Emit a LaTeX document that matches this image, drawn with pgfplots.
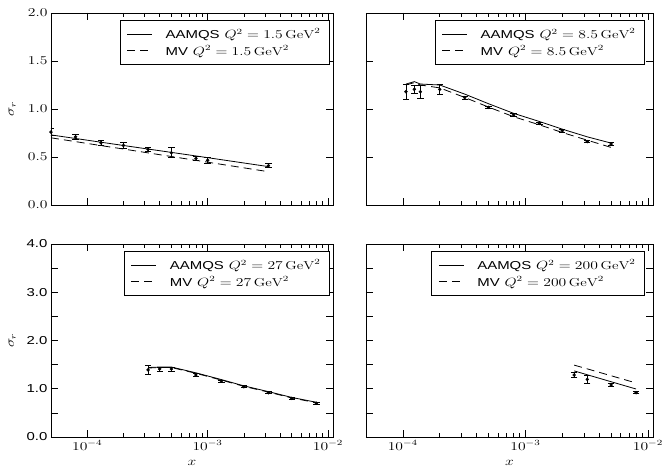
\documentclass[border=0pt]{standalone}
\usepackage{fontspec}
\setsansfont{Liberation Sans}
\usepackage{graphicx}
\usepackage{pgfplots}
\pgfplotsset{compat=1.18}
\newcommand{\fs}{\fontsize{11.5}{13.8}\selectfont}
\newcommand{\sx}[1]{\scalebox{1.3}[1]{#1}}
\pgfplotsset{
  every axis/.append style={
    scale only axis,
    xtick pos=both, ytick pos=both, tick align=inside,
    major tick length=7pt, minor tick length=4pt,
    tick style={black, line width=0.6pt},
    axis line style={line width=0.8pt},
    tick label style={font=\fs},
    label style={font=\fs},
  },
  every axis x label/.append style={yshift=-3pt},
  every axis legend/.append style={draw=black, line width=0.6pt, font=\fs, anchor=north east,
    cells={anchor=west, inner xsep=2pt, inner ysep=2pt, text height=11pt, text depth=2.5pt},
    inner xsep=7pt, inner ysep=5.5pt,
    /tikz/every odd column/.append style={column sep=11pt}},
  every axis y label/.style={at={(axis description cs:-0.138,0.5)}, rotate=90, anchor=center},
  legend image code/.code={\draw[#1] (0pt,0pt) -- (25pt,0pt);},
  mydata/.style={only marks, mark=*, mark size=1.5pt, black, forget plot,
    error bars/y dir=both, error bars/y explicit,
    error bars/error bar style={line width=0.8pt, black},
    error bars/error mark options={rotate=90, mark size=3.2pt, line width=0.8pt, black}},
  mytheory/.style={black, line width=0.8pt, no markers},
  mydash/.style={black, line width=0.8pt, dash pattern=on 8pt off 5pt, no markers},
}
\begin{document}
\begin{tikzpicture}
\useasboundingbox (0,0) rectangle (663pt,469pt);
% ---------- top left: Q^2 = 1.5
\begin{axis}[xmode=log, xmin=5e-5, xmax=1.1e-2, xtick={1e-4,1e-3,1e-2}, xticklabels={},
  ymin=0, ymax=2, ytick={0,0.5,1,1.5,2},
  yticklabels={\sx{$0.0$},\sx{$0.5$},\sx{$1.0$},\sx{$1.5$},\sx{$2.0$}},
  at={(51pt,264pt)}, anchor=south west, width=282pt, height=192pt,
  ylabel={\sx{$\sigma_r$}}, legend style={at={(0.989,0.9635)}}]
\addplot[mytheory] coordinates {(5e-5,0.73) (8e-5,0.693) (1.3e-4,0.654) (2e-4,0.620) (3.2e-4,0.583) (5e-4,0.548) (8e-4,0.511) (1e-3,0.493) (3.2e-3,0.40)};
\addlegendentry{\sx{\textsf{AAMQS} $Q^2 = 1.5\,\mathrm{GeV}^2$}}
\addplot[mydash] coordinates {(5e-5,0.70) (8e-5,0.660) (1.3e-4,0.619) (2e-4,0.583) (3.2e-4,0.543) (5e-4,0.505) (8e-4,0.465) (1e-3,0.446) (3.2e-3,0.347)};
\addlegendentry{\sx{\textsf{MV} $Q^2 = 1.5\,\mathrm{GeV}^2$}}
\addplot[mydata] coordinates {(5e-5,0.76) +- (0,0.04) (8e-5,0.71) +- (0,0.03) (1.3e-4,0.648) +- (0,0.03) (2e-4,0.62) +- (0,0.03) (3.2e-4,0.58) +- (0,0.02) (5e-4,0.545) +- (0,0.05) (8e-4,0.486) +- (0,0.02) (1e-3,0.465) +- (0,0.03) (3.2e-3,0.41) +- (0,0.02)};
\end{axis}
% ---------- top right: Q^2 = 8.5
\begin{axis}[xmode=log, xmin=5e-5, xmax=1.1e-2, xtick={1e-4,1e-3,1e-2}, xticklabels={},
  ymin=0, ymax=2, ytick={0,0.5,1,1.5,2}, yticklabels={},
  at={(366pt,264pt)}, anchor=south west, width=287pt, height=192pt,
  legend style={at={(0.972,0.9635)}}]
\addplot[mytheory] coordinates {(1.06e-4,1.26) (1.24e-4,1.285) (1.39e-4,1.26) (2e-4,1.25) (3.2e-4,1.155) (5e-4,1.055) (8e-4,0.955) (1.3e-3,0.87) (2e-3,0.79) (3.2e-3,0.71) (5e-3,0.645)};
\addlegendentry{\sx{\textsf{AAMQS} $Q^2 = 8.5\,\mathrm{GeV}^2$}}
\addplot[mydash] coordinates {(1.06e-4,1.25) (1.24e-4,1.275) (1.39e-4,1.25) (2e-4,1.22) (3.2e-4,1.12) (5e-4,1.02) (8e-4,0.92) (1.3e-3,0.835) (2e-3,0.755) (3.2e-3,0.675) (5e-3,0.60)};
\addlegendentry{\sx{\textsf{MV} $Q^2 = 8.5\,\mathrm{GeV}^2$}}
\addplot[mydata] coordinates {(1.06e-4,1.18) +- (0,0.08) (1.24e-4,1.205) +- (0,0.04) (1.39e-4,1.18) +- (0,0.07) (2e-4,1.205) +- (0,0.05) (3.2e-4,1.118) +- (0,0.015) (5e-4,1.017) +- (0,0.015) (8e-4,0.9375) +- (0,0.015) (1.3e-3,0.85) +- (0,0.015) (2e-3,0.774) +- (0,0.015) (3.2e-3,0.66) +- (0,0.01) (5e-3,0.635) +- (0,0.015)};
\end{axis}
% ---------- bottom left: Q^2 = 27
\begin{axis}[xmode=log, xmin=5e-5, xmax=1.1e-2, xtick={1e-4,1e-3,1e-2},
  xticklabels={\sx{$10^{-4}$},\sx{$10^{-3}$},\sx{$10^{-2}$}}, xlabel={\sx{$x$}},
  ymin=0, ymax=4, ytick={0,1,2,3,4}, extra y ticks={0.5,1.5,2.5,3.5}, extra y tick labels={},
  yticklabels={\sx{0.0},\sx{1.0},\sx{2.0},\sx{3.0},\sx{4.0}},
  y tick label style={font=\sffamily\fs},
  at={(51pt,32pt)}, anchor=south west, width=282pt, height=193pt,
  ylabel={\sx{$\sigma_r$}}, legend style={at={(0.989,0.9637)}}]
\addplot[mytheory] coordinates {(3.2e-4,1.44) (4e-4,1.45) (5e-4,1.45) (8e-4,1.33) (1.3e-3,1.19) (2e-3,1.06) (3.2e-3,0.94) (5e-3,0.82) (8e-3,0.72)};
\addlegendentry{\sx{\textsf{AAMQS} $Q^2 = 27\,\mathrm{GeV}^2$}}
\addplot[mydash] coordinates {(3.2e-4,1.43) (4e-4,1.44) (5e-4,1.44) (8e-4,1.32) (1.3e-3,1.18) (2e-3,1.05) (3.2e-3,0.93) (5e-3,0.81) (8e-3,0.71)};
\addlegendentry{\sx{\textsf{MV} $Q^2 = 27\,\mathrm{GeV}^2$}}
\addplot[mydata] coordinates {(3.2e-4,1.39) +- (0,0.1) (4e-4,1.41) +- (0,0.04) (5e-4,1.41) +- (0,0.04) (8e-4,1.285) +- (0,0.03) (1.3e-3,1.16) +- (0,0.02) (2e-3,1.04) +- (0,0.02) (3.2e-3,0.917) +- (0,0.02) (5e-3,0.80) +- (0,0.02) (8e-3,0.70) +- (0,0.02)};
\end{axis}
% ---------- bottom right: Q^2 = 200
\begin{axis}[xmode=log, xmin=5e-5, xmax=1.1e-2, xtick={1e-4,1e-3,1e-2},
  xticklabels={\sx{$10^{-4}$},\sx{$10^{-3}$},\sx{$10^{-2}$}}, xlabel={\sx{$x$}},
  ymin=0, ymax=4, ytick={0,1,2,3,4}, extra y ticks={0.5,1.5,2.5,3.5}, extra y tick labels={}, yticklabels={},
  at={(366pt,32pt)}, anchor=south west, width=287pt, height=193pt,
  legend style={at={(0.972,0.9637)}}]
\addplot[mytheory] coordinates {(2.5e-3,1.37) (3.2e-3,1.29) (5e-3,1.146) (8e-3,0.995)};
\addlegendentry{\sx{\textsf{AAMQS} $Q^2 = 200\,\mathrm{GeV}^2$}}
\addplot[mydash] coordinates {(2.5e-3,1.49) (3.2e-3,1.412) (5e-3,1.27) (8e-3,1.12)};
\addlegendentry{\sx{\textsf{MV} $Q^2 = 200\,\mathrm{GeV}^2$}}
\addplot[mydata] coordinates {(2.5e-3,1.285) +- (0,0.06) (3.2e-3,1.195) +- (0,0.08) (5e-3,1.078) +- (0,0.03) (8e-3,0.918) +- (0,0.02)};
\end{axis}
\end{tikzpicture}
\end{document}
